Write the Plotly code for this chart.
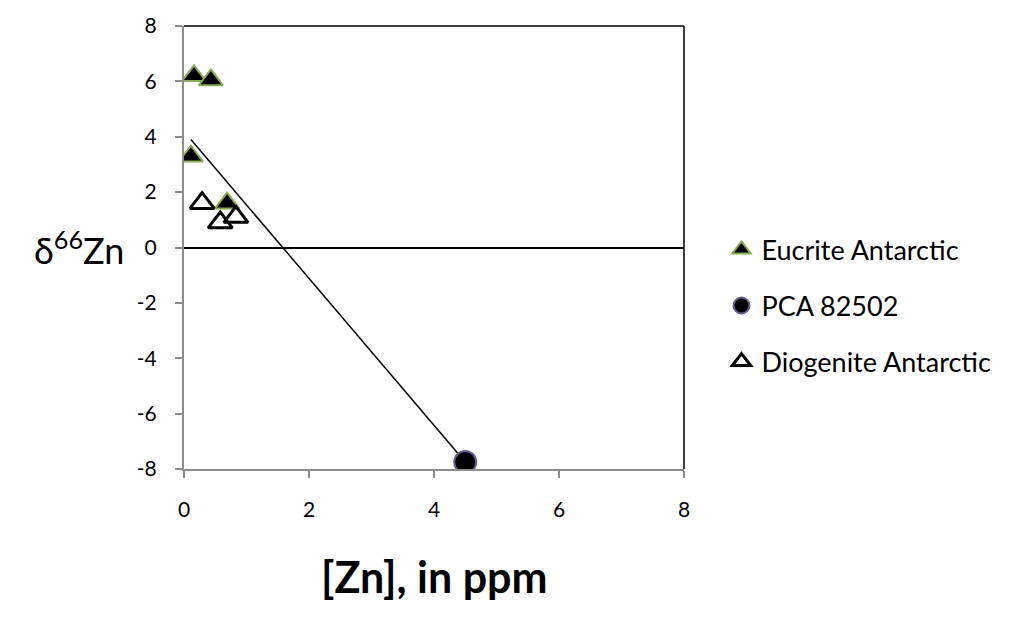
import plotly.graph_objects as go

# Zn concentration (ppm) and δ66Zn values
eucrite_zn = [0.16, 0.43, 0.11, 0.69]
eucrite_d66 = [6.2, 6.05, 3.3, 1.6]

pca_zn = [4.5]
pca_d66 = [-7.75]

diogenite_zn = [0.29, 0.58, 0.83]
diogenite_d66 = [1.6, 0.9, 1.1]

trend_zn = [0.11, 4.5]
trend_d66 = [3.9, -7.75]

x_ticks = [0, 2, 4, 6, 8]
y_ticks = [-8, -6, -4, -2, 0, 2, 4, 6, 8]
y_tick_text = ["-8", "-6", "-4", "-2", "0", "2", "4", "6", "8"]

FONT = "Lato"

fig = go.Figure()

fig.add_trace(go.Scatter(
    x=trend_zn, y=trend_d66, mode="lines",
    line=dict(color="black", width=1.5), showlegend=False, hoverinfo="skip"))

fig.add_trace(go.Scatter(
    x=eucrite_zn, y=eucrite_d66, mode="markers", name="Eucrite Antarctic",
    legendgroup="a",
    marker=dict(symbol="triangle-up", size=21, color="black",
                line=dict(color="#8aab54", width=2))))

fig.add_trace(go.Scatter(
    x=pca_zn, y=pca_d66, mode="markers", name="PCA 82502",
    legendgroup="b",
    marker=dict(symbol="circle", size=22, color="black",
                line=dict(color="#6b5a94", width=2))))

fig.add_trace(go.Scatter(
    x=diogenite_zn, y=diogenite_d66, mode="markers", name="Diogenite Antarctic",
    legendgroup="c",
    marker=dict(symbol="triangle-up-open", size=21, color="black",
                line=dict(color="black", width=3))))

# black frame on top and right
fig.add_shape(type="line", xref="paper", yref="paper", x0=0, x1=1, y0=1, y1=1,
              line=dict(color="black", width=1.5))
fig.add_shape(type="line", xref="paper", yref="paper", x0=1, x1=1, y0=0, y1=1,
              line=dict(color="black", width=1.5))

fig.update_layout(
    width=1017, height=620,
    margin=dict(l=184, r=333, t=18, b=151),
    paper_bgcolor="white", plot_bgcolor="white",
    font=dict(family=FONT, color="black", size=20),
    xaxis=dict(range=[0, 8], tickvals=x_ticks,
               ticktext=[str(v) for v in x_ticks],
               showgrid=False, zeroline=False,
               showline=True, linecolor="#8c8c8c", linewidth=2,
               ticks="outside", tickcolor="#8c8c8c", ticklen=7, tickwidth=2,
               tickfont=dict(size=21, family=FONT, color="black"),
               ticklabelstandoff=14),
    yaxis=dict(range=[-8, 8], tickvals=y_ticks, ticktext=y_tick_text,
               showgrid=False,
               zeroline=True, zerolinecolor="black", zerolinewidth=1.5,
               showline=True, linecolor="#8c8c8c", linewidth=2,
               ticks="outside", tickcolor="#8c8c8c", ticklen=7, tickwidth=2,
               tickfont=dict(size=21, family=FONT, color="black"),
               ticklabelstandoff=14),
    legend=dict(x=1.075, y=0.55, xanchor="left", yanchor="top",
                font=dict(size=27, family=FONT, color="black"),
                traceorder="grouped",
                tracegroupgap=18, itemwidth=30, bgcolor="rgba(0,0,0,0)"),
    annotations=[
        dict(text="δ<sup>66</sup>Zn", xref="paper", yref="paper",
             x=-0.117, y=0.5, xanchor="right", yanchor="middle",
             showarrow=False, font=dict(size=36, family=FONT)),
        dict(text="<b>[Zn], in ppm</b>", xref="paper", yref="paper",
             x=0.5, y=-0.18, xanchor="center", yanchor="top",
             showarrow=False, font=dict(size=43, family=FONT)),
    ],
)

fig.write_html("out.html")
